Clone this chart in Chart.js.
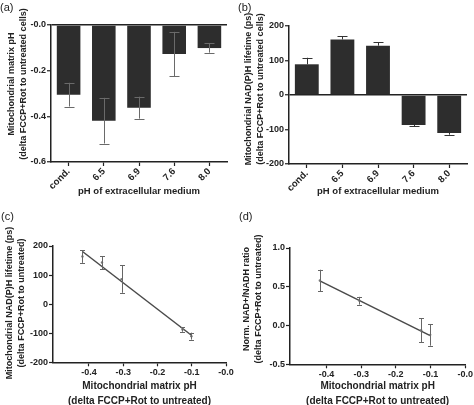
<!DOCTYPE html>
<html><head><meta charset="utf-8">
<script src="https://cdn.jsdelivr.net/npm/chart.js@4.4.1/dist/chart.umd.min.js"></script>
<style>
html,body{margin:0;padding:0;background:#fff;}
#wrap{position:relative;width:474px;height:405px;overflow:hidden;background:#fff;}
canvas{position:absolute;}
.lbl{position:absolute;font-family:"Liberation Sans",Arial,sans-serif;font-size:11px;color:#222;line-height:12px;}
</style></head><body>
<div id="wrap">
<canvas id="ca" width="237" height="200" style="left:0;top:0"></canvas>
<canvas id="cb" width="237" height="200" style="left:237px;top:0"></canvas>
<canvas id="cc" width="237" height="209" style="left:0;top:200px"></canvas>
<canvas id="cd" width="237" height="209" style="left:237px;top:200px"></canvas>
<div class="lbl" style="left:0;top:1px">(a)</div>
<div class="lbl" style="left:238px;top:1px">(b)</div>
<div class="lbl" style="left:1px;top:210px">(c)</div>
<div class="lbl" style="left:239px;top:210px">(d)</div>
</div>
<script>
// ---- data ----
const categories = ['cond.', '6.5', '6.9', '7.6', '8.0'];
const matrixPH = [-0.305, -0.419, -0.362, -0.127, -0.101];
const matrixPHErr = [0.052, 0.100, 0.048, 0.097, 0.020];
const lifetime = [89, 161, 143, -87, -110];
const lifetimeErr = [19, 10, 10, 4, 5];

const corrX = [-0.419, -0.362, -0.305, -0.127, -0.101];
const corrLifetime = [164, 143, 86, -87, -110];
const corrLifetimeErr = [22, 22, 47, 8, 12];
const corrFitX = [-0.419, -0.101];
const corrFitY = [181, -107];

const ratioX = [-0.419, -0.305, -0.127, -0.101];
const ratioY = [0.58, 0.32, -0.06, -0.12];
const ratioErr = [0.14, 0.05, 0.155, 0.14];
const ratioFitX = [-0.419, -0.101];
const ratioFitY = [0.575, -0.13];

const aYTicks = [0, -0.2, -0.4, -0.6];
const aYTickLabels = ['-0.0', '-0.2', '-0.4', '-0.6'];
const bYTicks = [200, 100, 0, -100, -200];
const bYTickLabels = ['200', '100', '0', '-100', '-200'];
const cXTicks = [-0.4, -0.3, -0.2, -0.1, 0];
const cXTickLabels = ['-0.4', '-0.3', '-0.2', '-0.1', '-0.0'];
const cYTicks = [200, 100, 0, -100, -200];
const cYTickLabels = ['200', '100', '0', '-100', '-200'];
const dYTicks = [1.0, 0.5, 0.0, -0.5];
const dYTickLabels = ['1.0', '0.5', '0.0', '-0.5'];

// ---- style ----
Chart.defaults.font.family = '"Liberation Sans", Arial, sans-serif';
Chart.defaults.font.weight = 'bold';
Chart.defaults.color = '#222';
Chart.defaults.animation = false;

const AX = '#222';
const tickFont = {size: 9, weight: 'bold'};

const errPlugin = {
  id: 'err',
  afterDatasetsDraw(chart, args, o) {
    if (!o || !o.errors) return;
    const ctx = chart.ctx, meta = chart.getDatasetMeta(0), ys = chart.scales.y;
    const vals = chart.data.datasets[0].data;
    ctx.save();
    ctx.strokeStyle = o.color; ctx.lineWidth = 1;
    meta.data.forEach((el, i) => {
      const v = typeof vals[i] === 'object' ? vals[i].y : vals[i];
      const e = o.errors[i];
      const x = Math.round(el.x) + 0.5;
      let hi = v + e, lo = v - e;
      if (o.mode === 'out') { if (v >= 0) lo = v; else hi = v; }
      const pHi = ys.getPixelForValue(hi), pLo = ys.getPixelForValue(lo);
      ctx.beginPath();
      ctx.moveTo(x, pHi); ctx.lineTo(x, pLo);
      if (o.mode !== 'out' || v >= 0) { ctx.moveTo(x - o.cap, Math.round(pHi) + 0.5); ctx.lineTo(x + o.cap, Math.round(pHi) + 0.5); }
      if (o.mode !== 'out' || v < 0) { ctx.moveTo(x - o.cap, Math.round(pLo) + 0.5); ctx.lineTo(x + o.cap, Math.round(pLo) + 0.5); }
      ctx.stroke();
    });
    ctx.restore();
  }
};
// vertical (y) axis title drawn at a chosen centre
const yTitlePlugin = {
  id: 'ytitle',
  afterDraw(chart, args, o) {
    if (!o || !o.lines) return;
    const ctx = chart.ctx;
    ctx.save();
    ctx.fillStyle = AX;
    ctx.font = 'bold ' + o.size + 'px "Liberation Sans", Arial, sans-serif';
    ctx.textAlign = 'center'; ctx.textBaseline = 'middle';
    ctx.translate(o.x, o.cy);
    ctx.rotate(-Math.PI / 2);
    o.lines.forEach((t, i) => ctx.fillText(t, 0, i * o.gap));
    ctx.restore();
  }
};
Chart.register(errPlugin, yTitlePlugin);

function fixedTicks(vals) { return s => { s.ticks = vals.map(v => ({value: v})); }; }
function labelsFrom(vals, labels) { return (v) => { const i = vals.findIndex(t => Math.abs(t - v) < 1e-9); return i >= 0 ? labels[i] : ''; }; }

function axisBase() {
  return {
    border: {display: true, color: AX, width: 1.5},
    grid: {display: true, drawOnChartArea: false, drawTicks: true, tickLength: 4, color: AX, tickColor: AX, tickWidth: 1.2},
  };
}

function barChart(id, values, errs, yMin, yMax, yTicks, yLabels, yTitle, titleCy, pad, yW, xH, mode) {
  const yAxis = axisBase();
  yAxis.grid = {display: true, drawOnChartArea: true, drawTicks: true, tickLength: 4,
    color: c => (c.tick && c.tick.value === 0 ? AX : 'rgba(0,0,0,0)'), lineWidth: 1.5, tickColor: AX, tickWidth: 1.2};
  const xAxis = axisBase();
  xAxis.grid.offset = false;
  new Chart(document.getElementById(id), {
    type: 'bar',
    data: {labels: categories, datasets: [{data: values, backgroundColor: '#2d2d2d', borderWidth: 0,
      categoryPercentage: 1, barPercentage: 0.67}]},
    options: {
      responsive: false,
      layout: {padding: pad},
      plugins: {legend: {display: false}, tooltip: {enabled: false},
        err: {errors: errs, mode: mode, cap: 5, color: mode === 'out' ? '#333' : '#6a6a6a'},
        ytitle: {lines: yTitle, x: 11.5, cy: titleCy, gap: 12.5, size: 9}},
      scales: {
        x: Object.assign(xAxis, {
          ticks: {font: {size: 9.5, weight: 'bold'}, maxRotation: 45, minRotation: 45, padding: 0, color: AX},
          title: {display: true, text: 'pH of extracellular medium', font: {size: 9.5, weight: 'bold'}, padding: {top: 0, bottom: 3}, color: AX},
          afterFit: s => { s.height = xH; }
        }),
        y: Object.assign(yAxis, {
          min: yMin, max: yMax,
          afterBuildTicks: fixedTicks(yTicks),
          ticks: {font: tickFont, padding: 1, color: AX, callback: labelsFrom(yTicks, yLabels)},
          title: {display: false},
          afterFit: s => { s.width = yW; }
        })
      }
    }
  });
}

barChart('ca', matrixPH, matrixPHErr, -0.6, 0, aYTicks, aYTickLabels,
  ['Mitochondrial matrix pH', '(delta FCCP+Rot to untreated cells)'], 84,
  {top: 25, right: 10, left: 0, bottom: 0}, 51, 38, 'both');

barChart('cb', lifetime, lifetimeErr, -200, 200, bYTicks, bYTickLabels,
  ['Mitochondrial NAD(P)H lifetime (ps)', '(delta FCCP+Rot to untreated cells)'], 89,
  {top: 26, right: 7, left: 0, bottom: 0}, 52, 36, 'out');

function scatterChart(id, xs, ys, errs, fx, fy, yMin, yMax, yTicks, yLabels, yTitle, titleCy, pad, yW, xH) {
  const pts = xs.map((x, i) => ({x: x, y: ys[i]}));
  const fit = fx.map((x, i) => ({x: x, y: fy[i]}));
  const xAxis = axisBase(), yAxis = axisBase();
  new Chart(document.getElementById(id), {
    type: 'scatter',
    data: {datasets: [
      {data: pts, pointRadius: 1.2, pointBackgroundColor: '#777', pointBorderWidth: 0, showLine: false},
      {data: fit, showLine: true, borderColor: '#4a4a4a', borderWidth: 1.5, pointRadius: 0}
    ]},
    options: {
      responsive: false,
      layout: {padding: pad},
      plugins: {legend: {display: false}, tooltip: {enabled: false},
        err: {errors: errs, mode: 'both', cap: 2.5, color: '#666'},
        ytitle: {lines: yTitle, x: 10, cy: titleCy, gap: 11.7, size: 9}},
      scales: {
        x: Object.assign(xAxis, {
          type: 'linear', min: -0.505, max: 0,
          afterBuildTicks: fixedTicks(cXTicks),
          ticks: {font: tickFont, padding: 1, color: AX, maxRotation: 0, callback: labelsFrom(cXTicks, cXTickLabels)},
          title: {display: true, text: ['Mitochondrial matrix pH', '(delta FCCP+Rot to untreated)'],
            font: {size: 10, weight: 'bold', lineHeight: 1.5}, padding: {top: 0, bottom: 0}, color: AX},
          afterFit: s => { s.height = xH; }
        }),
        y: Object.assign(yAxis, {
          min: yMin, max: yMax,
          afterBuildTicks: fixedTicks(yTicks),
          ticks: {font: tickFont, padding: 1, color: AX, callback: labelsFrom(yTicks, yLabels)},
          title: {display: false},
          afterFit: s => { s.width = yW; }
        })
      }
    }
  });
}

scatterChart('cc', corrX, corrLifetime, corrLifetimeErr, corrFitX, corrFitY, -200, 200, cYTicks, cYTickLabels,
  ['Mitochondrial NAD(P)H lifetime (ps)', '(delta FCCP+Rot to untreated)'], 103,
  {top: 46, right: 11, left: 0, bottom: 0}, 53, 46.7);

scatterChart('cd', ratioX, ratioY, ratioErr, ratioFitX, ratioFitY, -0.5, 1.0, dYTicks, dYTickLabels,
  ['Norm. NAD+/NADH ratio', '(delta FCCP+Rot to untreated)'], 99,
  {top: 48, right: 8, left: 0, bottom: 0}, 53, 44.7);
</script>
</body></html>
